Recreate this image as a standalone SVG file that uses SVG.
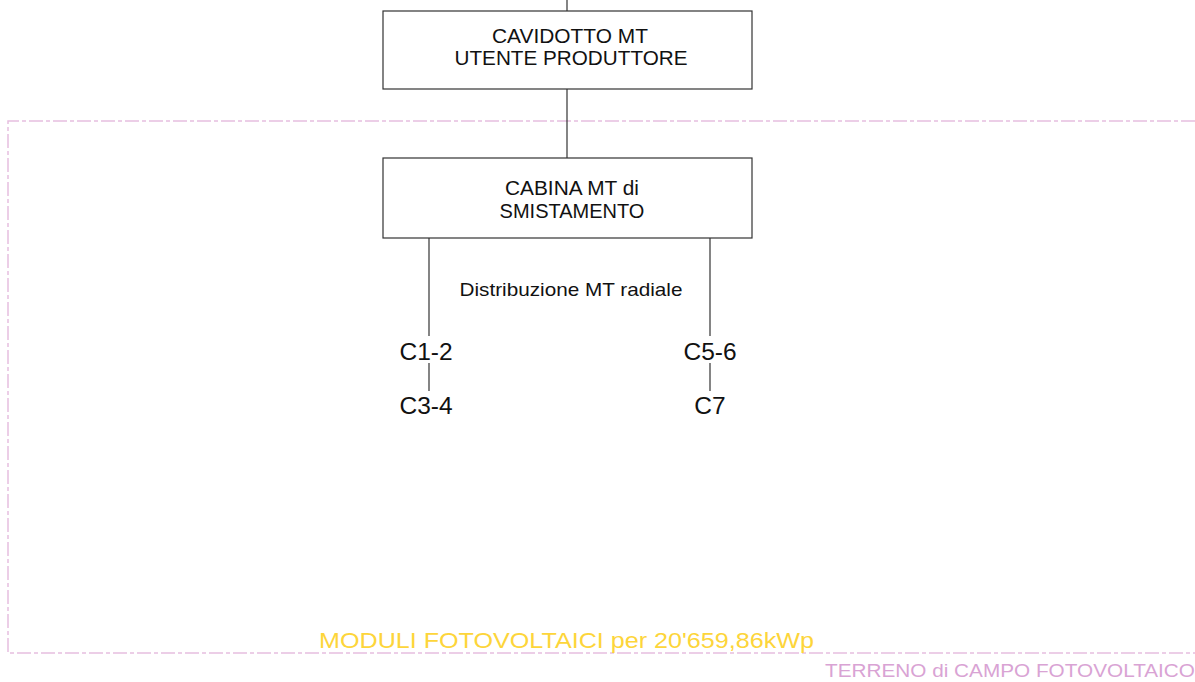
<svg xmlns="http://www.w3.org/2000/svg" width="1195" height="682" viewBox="0 0 1195 682">
<style>
.box{fill:#ffffff;stroke:#333333;stroke-width:1.2}
.ln{fill:none;stroke:#333333;stroke-width:1.2}
.frame{fill:none;stroke:#e6bfe0;stroke-width:1.5;stroke-dasharray:14 3 4 3}
.t{font-family:"Liberation Sans",Arial,sans-serif;fill:#111111;text-anchor:middle}
.bt{font-size:20px}
.ct{font-size:24.5px}
.dt{font-size:19px}
.mod{font-family:"Liberation Sans",Arial,sans-serif;font-size:22px;fill:#fdd53a}
.ter{font-family:"Liberation Sans",Arial,sans-serif;font-size:18.5px;fill:#d9a3d4}
</style>
<rect width="1195" height="682" fill="#ffffff"/>
<g id="frame">
<path class="frame" d="M1195 121 H8 V653 H1195"/>
<text class="mod" x="319" y="648" textLength="495" lengthAdjust="spacingAndGlyphs">MODULI FOTOVOLTAICI per 20'659,86kWp</text>
<text class="ter" x="825" y="677" textLength="370" lengthAdjust="spacingAndGlyphs">TERRENO di CAMPO FOTOVOLTAICO</text>
</g>
<g id="connectors">
<line class="ln" x1="567" y1="0" x2="567" y2="11"/>
<line class="ln" x1="567" y1="89" x2="567" y2="158"/>
<line class="ln" x1="429" y1="238" x2="429" y2="336"/>
<line class="ln" x1="429" y1="363" x2="429" y2="391"/>
<line class="ln" x1="710" y1="238" x2="710" y2="336"/>
<line class="ln" x1="710" y1="363" x2="710" y2="391"/>
</g>
<g id="cavidotto">
<rect class="box" x="383" y="11" width="369" height="78"/>
<text class="t bt" x="570" y="43" textLength="156" lengthAdjust="spacingAndGlyphs">CAVIDOTTO MT</text>
<text class="t bt" x="571" y="65" textLength="233" lengthAdjust="spacingAndGlyphs">UTENTE PRODUTTORE</text>
</g>
<g id="cabina">
<rect class="box" x="383" y="158" width="369" height="80"/>
<text class="t bt" x="572" y="195" textLength="134" lengthAdjust="spacingAndGlyphs">CABINA MT di</text>
<text class="t bt" x="572" y="218">SMISTAMENTO</text>
</g>
<g id="distribuzione">
<text class="t dt" x="571" y="296" textLength="223" lengthAdjust="spacingAndGlyphs">Distribuzione MT radiale</text>
</g>
<g id="c12"><text class="t ct" x="426" y="360">C1-2</text></g>
<g id="c34"><text class="t ct" x="426" y="414">C3-4</text></g>
<g id="c56"><text class="t ct" x="710" y="360">C5-6</text></g>
<g id="c7"><text class="t ct" x="710" y="414">C7</text></g>
</svg>
